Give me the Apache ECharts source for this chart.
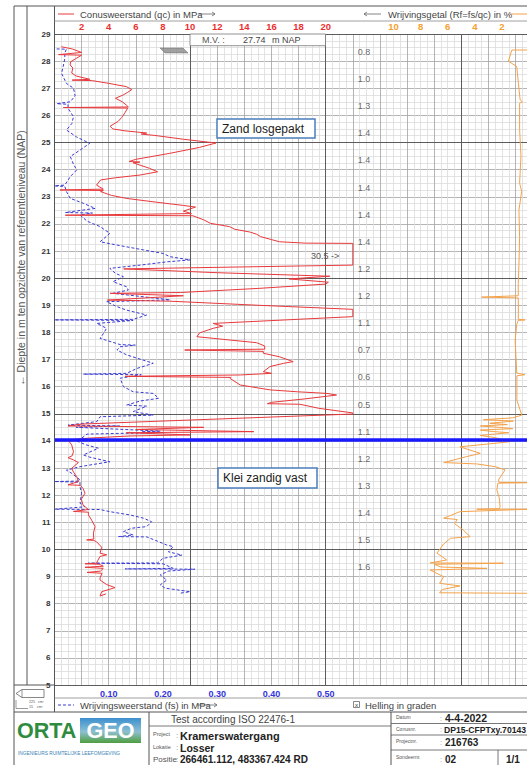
<!DOCTYPE html>
<html><head><meta charset="utf-8">
<script src="https://cdn.jsdelivr.net/npm/echarts/dist/echarts.min.js"></script>
<style>html,body{margin:0;padding:0;overflow:hidden;background:#fff}#c{width:560px;height:765px}</style>
</head><body><div id="c"></div><script>
// ---- data ----
// qc: [cone resistance MPa, depth m NAP] (values beyond 22 are drawn clipped at the plot limit)
const qcPoints = [[0.5,28.53],[1.3,28.45],[2.0,28.32],[0.3,28.24],[2.0,28.22],[1.6,28.1],[1.2,27.98],[1.15,27.86],[1.35,27.75],[1.27,27.56],[1.6,27.45],[2.6,27.33],[1.3,27.3],[2.8,27.28],[4.0,27.18],[5.3,27.06],[5.7,26.95],[5.4,26.85],[5.05,26.75],[4.5,26.63],[5.0,26.5],[5.3,26.38],[5.45,26.31],[0.65,26.29],[5.4,26.27],[5.2,26.1],[4.95,25.92],[4.7,25.78],[4.1,25.6],[4.3,25.5],[5.2,25.43],[6.8,25.35],[6.4,25.31],[7.4,25.26],[9.5,25.12],[11.9,24.98],[10.7,24.82],[8.5,24.6],[6.0,24.38],[5.5,24.3],[6.3,24.28],[5.8,24.25],[7.0,24.05],[7.6,23.92],[6.3,23.8],[4.5,23.7],[3.4,23.62],[3.1,23.43],[3.6,23.28],[0.4,23.25],[3.6,23.23],[3.4,23.19],[4.2,23.05],[5.3,22.94],[7.5,22.8],[9.5,22.68],[10.4,22.62],[9.5,22.47],[10.1,22.38],[0.8,22.32],[10.2,22.3],[11.0,22.15],[11.5,22.02],[12.9,21.9],[13.3,21.8],[14.4,21.7],[14.9,21.62],[15.2,21.53],[16.0,21.42],[16.6,21.34],[18.5,21.29],[22,21.28],[22,20.48],[5.1,20.34],[12,20.2],[20.3,20.07],[17.3,19.97],[20.2,19.85],[20.0,19.78],[15,19.62],[9.3,19.47],[4.1,19.44],[9.5,19.35],[3.9,19.19],[8.5,19.15],[15,19.0],[22,18.85],[22,18.58],[11.7,18.33],[12.4,18.23],[11.7,18.15],[10.7,17.98],[10.5,17.84],[11.7,17.78],[14.9,17.62],[15.5,17.5],[15.5,17.38],[9.6,17.35],[15.4,17.3],[15.4,17.23],[16.6,17.1],[17.6,16.92],[16.9,16.86],[15.9,16.74],[15.4,16.55],[16.0,16.49],[13.7,16.43],[5.2,16.38],[13.0,16.34],[12.95,16.3],[13.7,16.06],[15.9,15.88],[17.9,15.81],[20.1,15.75],[20.8,15.69],[18.5,15.55],[16.0,15.42],[15.7,15.37],[18.1,15.35],[19.5,15.2],[22,15.03],[22,14.99],[2.0,14.62],[1.0,14.55],[11,14.5],[6,14.42],[14.7,14.34],[5.3,14.3],[10,14.22],[5.5,14.18],[2.5,14.1],[1.0,14.03],[1.27,13.85],[1.4,13.6],[1.3,13.45],[1.0,13.38],[1.4,13.3],[1.76,13.2],[1.27,12.99],[1.4,12.85],[1.64,12.68],[1.76,12.5],[1.0,12.38],[1.9,12.36],[2.1,12.25],[2.25,12.07],[1.98,11.85],[2.1,11.64],[2.5,11.47],[1.4,11.4],[2.5,11.37],[2.5,11.27],[2.74,11.08],[2.99,10.84],[2.87,10.6],[2.9,10.38],[2.37,10.35],[2.9,10.33],[3.1,10.28],[3.48,10.08],[3.36,9.86],[3.85,9.8],[3.36,9.74],[3.2,9.6],[3.1,9.49],[2.25,9.47],[3.3,9.45],[3.6,9.38],[2.25,9.34],[3.6,9.3],[3.4,9.2],[2.4,9.15],[3.5,9.12],[3.36,8.95],[3.36,8.87],[3.85,8.7],[4.46,8.59],[3.48,8.44],[3.36,8.28],[3.8,8.36]];
const qcPeakValue = 30.5;
const qcPeakDepth = 20.82;
// fs: [sleeve friction MPa, depth]
const fsPoints = [[0.004,28.45],[0.022,28.44],[0.019,28.3],[0.019,28.1],[0.016,27.8],[0.013,27.55],[0.022,27.18],[0.035,27.0],[0.038,26.72],[0.029,26.5],[0.004,26.43],[0.025,26.41],[0.025,26.26],[0.035,25.95],[0.032,25.7],[0.022,25.46],[0.041,25.2],[0.065,24.97],[0.047,24.72],[0.029,24.48],[0.035,24.2],[0.041,23.99],[0.029,23.74],[0.019,23.43],[0.0,23.4],[0.019,23.38],[0.022,23.19],[0.029,22.94],[0.053,22.76],[0.075,22.57],[0.02,22.42],[0.07,22.4],[0.047,22.33],[0.06,22.1],[0.084,21.9],[0.102,21.65],[0.084,21.34],[0.115,21.22],[0.164,21.04],[0.2,20.91],[0.213,20.79],[0.25,20.67],[0.207,20.6],[0.158,20.48],[0.102,20.36],[0.112,20.18],[0.127,20.05],[0.108,19.87],[0.133,19.68],[0.136,19.56],[0.108,19.44],[0.213,19.2],[0.096,19.13],[0.115,18.95],[0.133,18.82],[0.17,18.64],[0.145,18.48],[0.0,18.46],[0.145,18.44],[0.078,18.33],[0.096,18.15],[0.09,17.95],[0.084,17.78],[0.121,17.55],[0.149,17.53],[0.121,17.47],[0.115,17.35],[0.133,17.17],[0.16,17.0],[0.182,16.86],[0.152,16.67],[0.133,16.49],[0.053,16.46],[0.16,16.44],[0.121,16.31],[0.127,16.0],[0.145,15.81],[0.182,15.75],[0.192,15.57],[0.158,15.47],[0.133,15.32],[0.17,15.28],[0.145,15.08],[0.182,14.95],[0.084,14.89],[0.078,14.71],[0.025,14.58],[0.12,14.55],[0.04,14.5],[0.195,14.36],[0.16,14.33],[0.2,14.31],[0.06,14.25],[0.05,14.1],[0.04,14.0],[0.059,13.85],[0.081,13.73],[0.053,13.48],[0.065,13.4],[0.102,13.23],[0.047,13.05],[0.022,12.92],[0.032,12.8],[0.045,12.6],[0.047,12.52],[0.0,12.5],[0.047,12.48],[0.047,12.31],[0.05,12.07],[0.047,11.7],[0.056,11.57],[0.0,11.48],[0.084,11.47],[0.102,11.39],[0.139,11.27],[0.164,11.15],[0.179,11.02],[0.17,10.84],[0.142,10.78],[0.127,10.65],[0.145,10.53],[0.118,10.47],[0.17,10.46],[0.19,10.3],[0.207,10.16],[0.219,10.1],[0.21,9.91],[0.235,9.79],[0.2,9.67],[0.19,9.5],[0.062,9.49],[0.2,9.47],[0.219,9.3],[0.13,9.28],[0.259,9.27],[0.21,9.2],[0.195,9.06],[0.207,8.87],[0.195,8.69],[0.204,8.57],[0.25,8.44],[0.23,8.38]];
// Rf: [friction ratio %, depth]
const rfPoints = [[0.0,28.41],[1.27,28.41],[1.53,28.0],[0.91,27.8],[0.79,27.18],[0.66,26.57],[0.5,26.5],[0.7,26.45],[0.7,25.5],[0.6,24.5],[0.7,23.5],[0.55,23.2],[0.75,22.5],[0.7,21.5],[0.75,20.5],[0.8,19.8],[0.8,19.35],[3.5,19.3],[0.8,19.27],[0.79,18.9],[0.8,18.48],[0.3,18.46],[0.8,18.44],[0.91,18.3],[1.03,17.7],[0.91,16.5],[0.3,16.44],[0.9,16.4],[0.9,15.5],[0.54,14.95],[1.2,14.85],[3.37,14.78],[1.16,14.73],[2.9,14.65],[1.6,14.6],[3.6,14.55],[2.2,14.5],[1.2,14.45],[3.6,14.4],[2.8,14.35],[1.5,14.3],[3.6,14.2],[2.5,14.12],[1.4,13.97],[5.1,13.78],[3.6,13.54],[4.6,13.42],[6.3,13.2],[3.86,13.15],[2.5,13.05],[1.77,12.93],[2.26,12.56],[2.2,12.47],[0.0,12.46],[2.3,12.44],[2.38,12.19],[2.2,11.9],[2.14,11.57],[2.2,11.5],[3.86,11.48],[0.0,11.48],[5.1,11.39],[6.3,11.15],[5.3,11.1],[5.5,10.95],[4.85,10.71],[4.35,10.47],[5.8,10.41],[6.3,10.2],[6.8,9.86],[6.07,9.61],[7.3,9.5],[1.9,9.49],[7.0,9.45],[6.5,9.35],[3.1,9.3],[7.3,9.24],[6.3,8.99],[6.6,8.75],[5.1,8.65],[6.4,8.52],[6.6,8.4],[0.0,8.38]];
// inclination (Helling in graden) per metre
const inclDepths = [28.34,27.34,26.34,25.34,24.34,23.34,22.34,21.34,20.34,19.34,18.34,17.34,16.34,15.34,14.34,13.34,12.34,11.34,10.34,9.34];
const inclValues = ['0.8','1.0','1.3','1.4','1.4','1.4','1.4','1.4','1.2','1.2','1.1','0.7','0.6','0.5','1.1','1.2','1.3','1.4','1.5','1.6'];
const layerBoundary = 14.03;
const depthMin = 5, depthMax = 29;

// ---- layout ----
const GL = 54.5, GT = 34, UNIT = 13.56, QMAX = 37, GH = 651;
const RF_ZERO = 35;          // Rf axis zero sits at qc-position 35
const FS_FACTOR = 40;        // fs scale: 0.1 MPa per 4 MPa qc
const INCL_X = 22.82;        // qc-position of the inclination column
const FONT = 'Liberation Sans, Arial, sans-serif';
const RED = '#e8393c', BLUE = '#3a3ad6', ORANGE = '#f4a24a';
const GRID_MINOR = '#dcdcdc', GRID_MED = '#a2a2a2', GRID_MAJ = '#5c5c5c';

const G = [];
function L(x1,y1,x2,y2,c,w,dash){G.push({type:'line',silent:true,z:50,shape:{x1,y1,x2,y2},style:{stroke:c||'#555',lineWidth:w||1,lineDash:dash||null}});}
function T(x,y,text,o,extra){G.push(Object.assign({type:'text',silent:true,z:51,x,y,style:Object.assign({text,fill:'#444',fontSize:9,fontFamily:FONT,align:'left',verticalAlign:'middle'},o||{})},extra||{}));}
function R(x,y,w,h,st){G.push({type:'rect',silent:true,z:49,shape:{x,y,width:w,height:h},style:st});}
function arrowR(x1,x2,y){L(x1,y,x2,y,'#666',0.8);G.push({type:'polyline',silent:true,z:50,shape:{points:[[x2-3,y-2],[x2,y],[x2-3,y+2]]},style:{stroke:'#666',lineWidth:0.8,fill:null}});}
function arrowL(x1,x2,y){L(x1,y,x2,y,'#666',0.8);G.push({type:'polyline',silent:true,z:50,shape:{points:[[x1+3,y-2],[x1,y],[x1+3,y+2]]},style:{stroke:'#666',lineWidth:0.8,fill:null}});}

// frame & header
L(14,6,560,6,'#555',1);
L(14,6,14,765,'#555',1);
L(27,6,27,685,'#555',1);
L(54.5,6,54.5,712,'#555',1);
L(54.5,21,560,21,'#888',0.8);
L(58,14,74,14,RED,1);
T(80,14,'Conusweerstand (qc) in MPa',{fontSize:9.5});
arrowR(199,215,14);
arrowL(364,381,14);
T(388,14,'Wrijvingsgetal (Rf=fs/qc) in %',{fontSize:9.5});
L(510,14,560,14,ORANGE,1);
// y-axis title (reads bottom to top)
T(21,258,'\u2190 Diepte in m ten opzichte van referentieniveau (NAP)',{align:'center',fontSize:10.5,fill:'#555'},{rotation:Math.PI/2});
// M.V. box
R(190,34,135.5,11.7,{fill:'#fff',stroke:'#777',lineWidth:0.8});
T(202,40,'M.V. :',{fontSize:9,fill:'#555'});
T(243,40,'27.74',{fontSize:9,fill:'#444'});
T(272,40,'m NAP',{fontSize:9,fill:'#444'});
// ground level hatch
G.push({type:'polygon',silent:true,z:48,shape:{points:[[160,48],[183,48],[188,53],[165,53]]},style:{fill:'#8a8a8a',stroke:'#555',lineWidth:0.5,opacity:0.8}});
// soil boxes
R(217,119,98,19,{fill:'#fff',stroke:'#4a7ebb',lineWidth:1.5});
T(222,128.5,'Zand losgepakt',{fontSize:12,fill:'#222'});
R(218,468,99,20,{fill:'#fff',stroke:'#4a7ebb',lineWidth:1.5});
T(223,478,'Klei zandig vast',{fontSize:12,fill:'#222'});
// footer rows
L(14,685,54.5,685,'#555',1);
L(54.5,698,560,698,'#888',0.8);
L(14,712,560,712,'#555',1);
L(58,705,74,705,BLUE,1,[3,2]);
T(80,705,'Wrijvingsweerstand (fs) in MPa',{fontSize:9.5});
arrowR(198,217,705);
R(353.5,701.5,6,6,{fill:'#fff',stroke:'#555',lineWidth:0.7});
T(356.5,704.7,'x',{fontSize:6,align:'center',fill:'#333'});
T(365,705,'Helling in graden',{fontSize:9.5});
// cone symbol
G.push({type:'polygon',silent:true,z:50,shape:{points:[[16,693.5],[22,689.5],[44,689.5],[44,697.5],[22,697.5]]},style:{fill:'#fff',stroke:'#555',lineWidth:0.7}});
L(22,689.5,22,697.5,'#555',0.6);
L(16,700,16,708.5,'#555',0.6);L(16,708.5,28,708.5,'#555',0.6);
T(29,701.5,'225   cm\u00b2',{fontSize:3.6,fill:'#555'});
T(29,706.5,'15    cm\u00b2',{fontSize:3.6,fill:'#555'});
// title block
L(149,712,149,765,'#555',1);
L(391,712,391,765,'#555',1);
L(149,726,391,726,'#555',0.8);
T(233,719.5,'Test according ISO 22476-1',{align:'center',fontSize:10,fill:'#444'});
T(153,734,'Project',{fontSize:5.5,fill:'#555'});
T(153,746.5,'Lokatie',{fontSize:5.5,fill:'#555'});
T(153,759.5,'Positie',{fontSize:8,fill:'#555'});
T(176,735.5,':',{fontSize:8,fill:'#888'});T(176,747.5,':',{fontSize:8,fill:'#888'});T(176,759.5,':',{fontSize:8,fill:'#888'});
T(180,735.5,'Kramerswatergang',{fontSize:11,fontWeight:'bold',fill:'#222'});
T(180,747.5,'Losser',{fontSize:10.5,fontWeight:'bold',fill:'#222'});
T(180,759.6,'266461.112, 483367.424 RD',{fontSize:10,fontWeight:'bold',fill:'#222'});
L(391,723.5,560,723.5,'#555',0.8);
L(391,735,560,735,'#555',0.8);
L(391,750,560,750,'#555',0.8);
L(498,750,498,765,'#555',0.8);
T(396,716.5,'Datum',{fontSize:5,fill:'#555'});
T(396,728.5,'Conusnr.',{fontSize:5,fill:'#555'});
T(396,740.5,'Projectnr.',{fontSize:5,fill:'#555'});
T(396,756.5,'Sondeernr.',{fontSize:5,fill:'#555'});
T(440,718,':',{fontSize:7,fill:'#999'});T(440,729.5,':',{fontSize:7,fill:'#999'});T(440,742,':',{fontSize:7,fill:'#999'});T(440,759,':',{fontSize:7,fill:'#999'});
T(445,718,'4-4-2022',{fontSize:10.5,fontWeight:'bold',fill:'#222'});
T(444,729.5,'DP15-CFPTxy.70143',{fontSize:8.6,fontWeight:'bold',fill:'#222'});
T(445,742,'216763',{fontSize:10,fontWeight:'bold',fill:'#222'});
T(445,759,'02',{fontSize:10,fontWeight:'bold',fill:'#222'});
T(506,759,'1/1',{fontSize:10,fontWeight:'bold',fill:'#222'});
// logo
const LOGO_FONT = 'Liberation Sans, Arial, sans-serif';
T(17,730.5,'ORTA',{fontSize:21.5,fontWeight:'bold',fill:'#2f8c3e',fontFamily:LOGO_FONT});
G.push({type:'rect',silent:true,z:49,shape:{x:80,y:718,width:61,height:25},style:{fill:new echarts.graphic.LinearGradient(0,0,0,1,[{offset:0,color:'#3b8fd0'},{offset:0.55,color:'#8ebfd0'},{offset:1,color:'#4f9e3e'}])}});
T(110.5,730.5,'GEO',{fontSize:21.5,fontWeight:'bold',fill:'#ffffff',align:'center',fontFamily:LOGO_FONT});
T(18,753,'INGENIEURS RUIMTELIJKE LEEFOMGEVING',{fontSize:4.8,fill:'#3a7fb5'});

const chart = echarts.init(document.getElementById('c'), null, {renderer:'svg'});
chart.setOption({
  animation:false,
  backgroundColor:'#fff',
  grid:{left:GL,top:GT,width:QMAX*UNIT,height:GH,containLabel:false,show:false},
  xAxis:[
    {type:'value',position:'top',min:0,max:QMAX,interval:2,
     axisLine:{show:true,lineStyle:{color:'#555',width:1}},axisTick:{show:false},
     axisLabel:{formatter:v=>(v>=2&&v<=20)?String(v):'',color:'#ec2f2f',fontWeight:'bold',fontSize:9.5,margin:3,fontFamily:FONT},
     splitLine:{show:true,lineStyle:{color:GRID_MED,width:0.8}},
     minorTick:{show:false,splitNumber:4},minorSplitLine:{show:true,lineStyle:{color:GRID_MINOR,width:0.8}}},
    {type:'value',position:'top',min:0,max:QMAX,interval:10,z:1,
     axisLine:{show:false},axisTick:{show:false},axisLabel:{show:false},
     splitLine:{show:true,lineStyle:{color:GRID_MAJ,width:1}}},
    {type:'value',position:'bottom',min:0,max:QMAX/FS_FACTOR,interval:0.1,
     axisLine:{show:true,lineStyle:{color:'#555',width:1}},axisTick:{show:false},
     axisLabel:{formatter:v=>(v>0.05&&v<0.55)?v.toFixed(2):'',color:'#3333dd',fontWeight:'bold',fontSize:9,margin:4,fontFamily:FONT},
     splitLine:{show:false}},
    {type:'value',position:'top',inverse:true,min:-2,max:RF_ZERO,interval:2,
     axisLine:{show:false},axisTick:{show:false},
     axisLabel:{formatter:v=>(v>=2&&v<=10)?String(v):'',color:'#f5a030',fontWeight:'bold',fontSize:9.5,margin:3,fontFamily:FONT},
     splitLine:{show:false}}
  ],
  yAxis:[
    {type:'value',position:'left',min:depthMin,max:depthMax,interval:1,
     axisLine:{show:true,lineStyle:{color:'#555',width:1}},axisTick:{show:false},
     axisLabel:{fontSize:8,fontWeight:'bold',color:'#333',margin:4,fontFamily:FONT},
     splitLine:{show:true,lineStyle:{color:GRID_MED,width:0.8}},
     minorTick:{show:false,splitNumber:4},minorSplitLine:{show:true,lineStyle:{color:GRID_MINOR,width:0.8}}},
    {type:'value',position:'right',min:depthMin,max:depthMax,interval:5,z:1,
     axisLine:{show:false},axisTick:{show:false},axisLabel:{show:false},
     splitLine:{show:true,lineStyle:{color:GRID_MAJ,width:1}}}
  ],
  series:[
    {type:'line',name:'qc',xAxisIndex:0,yAxisIndex:0,data:qcPoints,symbol:'none',z:4,
     lineStyle:{color:RED,width:1},
     markLine:{silent:true,symbol:'none',label:{show:false},lineStyle:{color:'#1a1aff',width:3.5,type:'solid'},data:[{yAxis:layerBoundary}]},
     markPoint:{silent:true,symbol:'rect',symbolSize:1,itemStyle:{color:'rgba(0,0,0,0)'},
       label:{show:true,position:'inside',formatter:qcPeakValue+' ->',fontSize:9,color:'#555',fontFamily:FONT},
       data:[{coord:[19.95,qcPeakDepth]}]}},
    {type:'line',name:'fs',xAxisIndex:2,yAxisIndex:0,data:fsPoints,symbol:'none',z:3,
     lineStyle:{color:BLUE,width:1,type:[3,2]}},
    {type:'line',name:'Rf',xAxisIndex:3,yAxisIndex:0,data:rfPoints,symbol:'none',z:3,
     lineStyle:{color:ORANGE,width:1}},
    {type:'scatter',name:'helling',xAxisIndex:0,yAxisIndex:0,symbolSize:1,itemStyle:{color:'rgba(0,0,0,0)'},
     data:inclDepths.map((d,i)=>[INCL_X,d,inclValues[i]]),
     label:{show:true,position:'inside',formatter:p=>p.value[2],fontSize:9,color:'#444',fontFamily:FONT}}
  ],
  graphic:G
});
</script></body></html>
